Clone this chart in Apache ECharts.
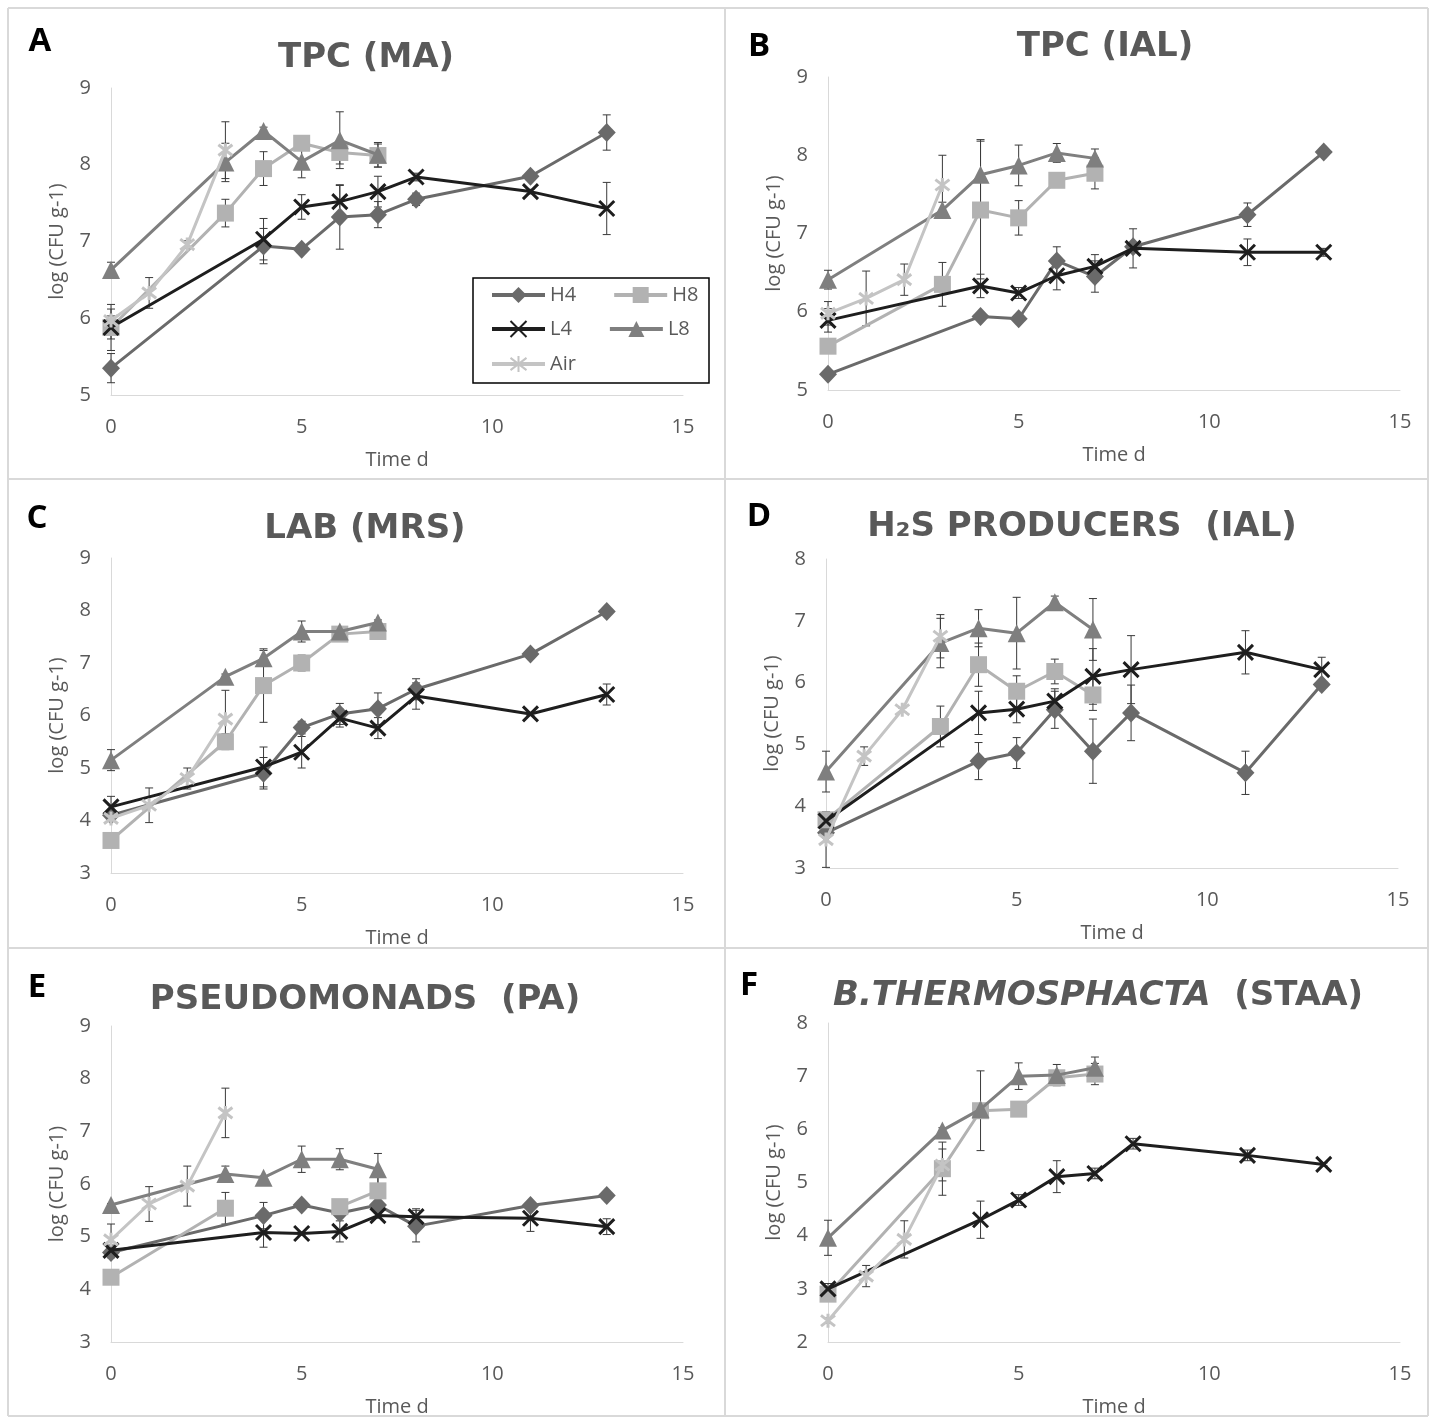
<!DOCTYPE html>
<html>
<head>
<meta charset="utf-8">
<title>Microbial counts</title>
<script src="https://cdn.jsdelivr.net/npm/echarts@6/dist/echarts.min.js"></script>
<style>
  html, body { margin: 0; padding: 0; background: #fff; }
  #chart { width: 1431px; height: 1418px; }
</style>
</head>
<body>
<div id="chart"></div>
<script>
// sampling days
const daysLong = [0, 4, 5, 6, 7, 8, 11, 13];   // H4, L4
const daysShort = [0, 3, 4, 5, 6, 7];           // H8, L8
const daysAir = [0, 1, 2, 3];                   // Air
const xTicks = [0, 5, 10, 15];

// A  TPC (MA)
const A_H4 = [5.35, 6.94, 6.90, 7.32, 7.35, 7.55, 7.85, 8.42];
const A_H4_err = [0.19, 0.23, 0.05, 0.42, 0.17, 0.08, 0.03, 0.23];
const A_H8 = [5.88, 7.37, 7.95, 8.28, 8.16, 8.12];
const A_H8_err = [0.15, 0.18, 0.22, 0.06, 0.15, 0.15];
const A_L4 = [5.88, 7.03, 7.45, 7.52, 7.65, 7.84, 7.65, 7.43];
const A_L4_err = [0.3, 0.27, 0.16, 0.21, 0.2, 0.05, 0.03, 0.34];
const A_L8 = [6.63, 8.03, 8.44, 8.04, 8.32, 8.13];
const A_L8_err = [0.1, 0.25, 0.05, 0.21, 0.37, 0.16];
const A_Air = [5.97, 6.33, 6.96, 8.19];
const A_Air_err = [0.15, 0.2, 0.05, 0.37];

// B  TPC (IAL)
const B_H4 = [5.2, 5.94, 5.91, 6.65, 6.45, 6.83, 7.24, 8.04];
const B_H4_err = [0.03, 0.05, 0.03, 0.18, 0.2, 0.05, 0.15, 0.03];
const B_H8 = [5.56, 6.35, 7.3, 7.2, 7.68, 7.77];
const B_H8_err = [0.05, 0.28, 0.88, 0.22, 0.05, 0.2];
const B_L4 = [5.89, 6.33, 6.24, 6.46, 6.58, 6.81, 6.76, 6.76];
const B_L4_err = [0.15, 0.15, 0.07, 0.18, 0.15, 0.25, 0.17, 0.05];
const B_L8 = [6.41, 7.3, 7.75, 7.87, 8.03, 7.96];
const B_L8_err = [0.12, 0.1, 0.45, 0.26, 0.12, 0.12];
const B_Air = [5.98, 6.17, 6.41, 7.62];
const B_Air_err = [0.15, 0.35, 0.2, 0.38];

// C  LAB (MRS)
const C_H4 = [4.1, 4.9, 5.77, 6.03, 6.13, 6.5, 7.17, 7.98];
const C_H4_err = [0.05, 0.3, 0.12, 0.2, 0.3, 0.2, 0.07, 0.03];
const C_H8 = [3.62, 5.5, 6.57, 7.0, 7.55, 7.6];
const C_H8_err = [0.05, 0.15, 0.7, 0.15, 0.05, 0.05];
const C_L4 = [4.26, 5.02, 5.3, 5.95, 5.76, 6.37, 6.03, 6.4];
const C_L4_err = [0.2, 0.38, 0.3, 0.17, 0.2, 0.25, 0.03, 0.2];
const C_L8 = [5.15, 6.74, 7.09, 7.6, 7.6, 7.77];
const C_L8_err = [0.2, 0.05, 0.15, 0.2, 0.05, 0.05];
const C_Air = [4.04, 4.29, 4.8, 5.93];
const C_Air_err = [0.05, 0.33, 0.2, 0.55];

// D  H2S producers (IAL)
const D_H4 = [3.57, 4.73, 4.86, 5.56, 4.89, 5.51, 4.54, 5.97];
const D_H4_err = [0.05, 0.3, 0.25, 0.3, 0.52, 0.45, 0.35, 0.05];
const D_H8 = [3.78, 5.29, 6.29, 5.86, 6.18, 5.8];
const D_H8_err = [0.1, 0.33, 0.35, 0.25, 0.2, 0.25];
const D_L4 = [3.76, 5.51, 5.57, 5.7, 6.1, 6.21, 6.49, 6.21];
const D_L4_err = [0.1, 0.35, 0.22, 0.2, 0.45, 0.55, 0.35, 0.2];
const D_L8 = [4.56, 6.64, 6.88, 6.8, 7.3, 6.86];
const D_L8_err = [0.33, 0.4, 0.3, 0.58, 0.1, 0.5];
const D_Air = [3.46, 4.81, 5.56, 6.75];
const D_Air_err = [0.45, 0.15, 0.03, 0.35];

// E  Pseudomonads (PA)
const E_H4 = [4.7, 5.4, 5.6, 5.45, 5.6, 5.2, 5.59, 5.78];
const E_H4_err = [0.1, 0.25, 0.05, 0.05, 0.05, 0.3, 0.05, 0.03];
const E_H8 = [4.23, 5.54, null, null, 5.57, 5.87];
const E_H8_err = [0.05, 0.3, null, null, 0.05, 0.3];
const E_L4 = [4.74, 5.08, 5.06, 5.1, 5.4, 5.38, 5.35, 5.19];
const E_L4_err = [0.1, 0.28, 0.03, 0.2, 0.05, 0.15, 0.25, 0.15];
const E_L8 = [5.6, 6.19, 6.12, 6.47, 6.47, 6.28];
const E_L8_err = [0.03, 0.15, 0.03, 0.25, 0.2, 0.3];
const E_Air = [4.94, 5.62, 5.96, 7.35];
const E_Air_err = [0.3, 0.33, 0.38, 0.47];

// F  B. thermosphacta (STAA)
const F_H8 = [2.9, 5.26, 6.35, 6.38, 6.97, 7.04];
const F_H8_err = [0.1, 0.5, 0.75, 0.03, 0.05, 0.2];
const F_L4 = [3.0, 4.3, 4.67, 5.11, 5.17, 5.73, 5.51, 5.34];
const F_L4_err = [0.1, 0.35, 0.1, 0.3, 0.1, 0.1, 0.1, 0.03];
const F_L8 = [3.96, 5.98, 6.38, 7.0, 7.02, 7.16];
const F_L8_err = [0.33, 0.05, 0.05, 0.25, 0.2, 0.2];
const F_Air = [2.4, 3.24, 3.93, 5.33];
const F_Air_err = [0.05, 0.2, 0.35, 0.3];

const GRAY = '#595959';
const FONT = '"Open Sans", sans-serif';
const TITLE_FONT = '"DejaVu Sans", sans-serif';
const X_SYM = 'path://M0,0L10,10M10,0L0,10';
const AST_SYM = 'path://M0,0L10,10M10,0L0,10M5,-1.5L5,11.5';

const looks = {
  H4: { color: '#6a6a6a', symbol: 'diamond', size: [18, 19], stroke: false },
  H8: { color: '#b2b2b2', symbol: 'rect', size: 17, stroke: false },
  L4: { color: '#1e1e1e', symbol: X_SYM, size: 15, stroke: true },
  L8: { color: '#7f7f7f', symbol: 'triangle', size: 18, stroke: false },
  Air: { color: '#c4c4c4', symbol: AST_SYM, size: 14, stroke: true }
};
const order = ['H4', 'H8', 'L4', 'L8', 'Air'];
const daysOf = { H4: daysLong, L4: daysLong, H8: daysShort, L8: daysShort, Air: daysAir };

const panels = [
  { letter: 'A', lx: 40, ly: 42, tx: 366, ty: 58, title: 'TPC (MA)', min: 5, max: 9, grid: [111, 88, 572, 307],
    data: { H4: [A_H4, A_H4_err], H8: [A_H8, A_H8_err], L4: [A_L4, A_L4_err], L8: [A_L8, A_L8_err], Air: [A_Air, A_Air_err] } },
  { letter: 'B', lx: 759, ly: 47, tx: 1105, ty: 47, title: 'TPC (IAL)', min: 5, max: 9, grid: [828, 77, 572, 313],
    data: { H4: [B_H4, B_H4_err], H8: [B_H8, B_H8_err], L4: [B_L4, B_L4_err], L8: [B_L8, B_L8_err], Air: [B_Air, B_Air_err] } },
  { letter: 'C', lx: 37, ly: 519, tx: 365, ty: 529, title: 'LAB (MRS)', min: 3, max: 9, grid: [111, 558, 572, 315],
    data: { H4: [C_H4, C_H4_err], H8: [C_H8, C_H8_err], L4: [C_L4, C_L4_err], L8: [C_L8, C_L8_err], Air: [C_Air, C_Air_err] } },
  { letter: 'D', lx: 759, ly: 517, tx: 1082, ty: 527, title: 'H\u2082S PRODUCERS  (IAL)', min: 3, max: 8, grid: [826, 559, 572, 309],
    data: { H4: [D_H4, D_H4_err], H8: [D_H8, D_H8_err], L4: [D_L4, D_L4_err], L8: [D_L8, D_L8_err], Air: [D_Air, D_Air_err] } },
  { letter: 'E', lx: 37, ly: 988, tx: 365, ty: 1000, title: 'PSEUDOMONADS  (PA)', min: 3, max: 9, grid: [111, 1026, 572, 322],
    data: { H4: [E_H4, E_H4_err], H8: [E_H8, E_H8_err], L4: [E_L4, E_L4_err], L8: [E_L8, E_L8_err], Air: [E_Air, E_Air_err] } },
  { letter: 'F', lx: 749, ly: 986, tx: 1098, ty: 996, title: '{i|B.THERMOSPHACTA}{n|  (STAA)}', min: 2, max: 8, grid: [828, 1023, 572, 322],
    data: { H8: [F_H8, F_H8_err], L4: [F_L4, F_L4_err], L8: [F_L8, F_L8_err], Air: [F_Air, F_Air_err] } }
];

function renderErr(params, api) {
  const x = api.value(0);
  const top = api.coord([x, api.value(2)]);
  const bot = api.coord([x, api.value(1)]);
  const c = 4;
  const st = { stroke: '#3a3a3a', lineWidth: 1 };
  return {
    type: 'group',
    children: [
      { type: 'line', shape: { x1: top[0], y1: top[1], x2: bot[0], y2: bot[1] }, style: st },
      { type: 'line', shape: { x1: top[0] - c, y1: top[1], x2: top[0] + c, y2: top[1] }, style: st },
      { type: 'line', shape: { x1: bot[0] - c, y1: bot[1], x2: bot[0] + c, y2: bot[1] }, style: st }
    ]
  };
}

const grids = [], xAxes = [], yAxes = [], series = [];
const graphics = [];

panels.forEach(function (p, i) {
  grids.push({ left: p.grid[0], top: p.grid[1], width: p.grid[2], height: p.grid[3] });
  xAxes.push({
    gridIndex: i, type: 'value', min: xTicks[0], max: xTicks[xTicks.length - 1], interval: 5,
    name: 'Time d', nameLocation: 'middle', nameGap: 55,
    nameTextStyle: { fontSize: 20, color: GRAY, fontFamily: FONT },
    axisLine: { show: true, onZero: false, lineStyle: { color: '#d9d9d9', width: 1 } },
    axisTick: { show: false }, splitLine: { show: false },
    axisLabel: { margin: 22, fontSize: 20, color: GRAY, fontFamily: FONT }
  });
  yAxes.push({
    gridIndex: i, type: 'value', min: p.min, max: p.max, interval: 1,
    name: 'log (CFU g-1)', nameLocation: 'middle', nameGap: 44,
    nameTextStyle: { fontSize: 20, color: GRAY, fontFamily: FONT },
    axisLine: { show: true, lineStyle: { color: '#d9d9d9', width: 1 } },
    axisTick: { show: false }, splitLine: { show: false },
    axisLabel: { margin: 20, fontSize: 20, color: GRAY, fontFamily: FONT }
  });

  const bars = [];
  order.forEach(function (key, k) {
    if (!p.data[key]) return;
    const vals = p.data[key][0], errs = p.data[key][1];
    const days = daysOf[key];
    const lk = looks[key];
    series.push({
      type: 'line', name: key, xAxisIndex: i, yAxisIndex: i,
      data: days.map(function (d, j) { return [d, vals[j] == null ? '-' : vals[j]]; }),
      symbol: lk.symbol, symbolSize: lk.size, showSymbol: true, connectNulls: false,
      lineStyle: { color: lk.color, width: 3 },
      itemStyle: { color: lk.color, borderColor: lk.color, borderWidth: lk.stroke ? 3 : 0 },
      emphasis: { disabled: true }, z: 3 + k * 0.1
    });
    days.forEach(function (d, j) {
      if (vals[j] == null) return;
      bars.push([d, vals[j] - errs[j], vals[j] + errs[j]]);
    });
  });
  // error bars sit behind the markers, as in the original
  series.push({
    type: 'custom', xAxisIndex: i, yAxisIndex: i, renderItem: renderErr,
    data: bars, encode: { x: 0, y: [1, 2] }, z: 2, silent: true
  });

  graphics.push({
    type: 'text', x: p.lx, y: p.ly, z: 20,
    style: { text: p.letter, font: 'bold 33px ' + FONT, fill: '#000', align: 'center', verticalAlign: 'middle' }
  });
  graphics.push({
    type: 'text', x: p.tx, y: p.ty, z: 20,
    style: {
      text: p.title, font: 'bold 34px ' + TITLE_FONT, fill: GRAY, align: 'center', verticalAlign: 'middle',
      rich: {
        i: { font: 'italic bold 34px ' + TITLE_FONT, fill: GRAY },
        n: { font: 'bold 34px ' + TITLE_FONT, fill: GRAY }
      }
    }
  });
});

// panel frame lines
const frame = [
  [8, 8, 1428, 8], [8, 479, 1428, 479], [8, 948, 1428, 948], [8, 1416, 1428, 1416],
  [8, 8, 8, 1416], [725, 8, 725, 1416], [1428, 8, 1428, 1416]
];
frame.forEach(function (f) {
  graphics.push({ type: 'line', z: 0, shape: { x1: f[0], y1: f[1], x2: f[2], y2: f[3] }, style: { stroke: '#d9d9d9', lineWidth: 2 } });
});
// legend box in panel A
graphics.push({ type: 'rect', z: 10, shape: { x: 473, y: 278, width: 236, height: 105 }, style: { fill: '#fff', stroke: '#000', lineWidth: 1.5 } });

function legendRow(names, top) {
  return {
    data: names, left: 490, top: top, orient: 'horizontal', padding: 0, z: 30,
    itemWidth: 53, itemHeight: 20, itemGap: 36, selectedMode: false,
    lineStyle: { width: 4 },
    textStyle: { fontSize: 20, color: GRAY, fontFamily: FONT }
  };
}

const chart = echarts.init(document.getElementById('chart'));
chart.setOption({
  backgroundColor: '#fff',
  animation: false,
  grid: grids,
  xAxis: xAxes,
  yAxis: yAxes,
  legend: [legendRow(['H4', 'H8'], 285), legendRow(['L4', 'L8'], 319), legendRow(['Air'], 354)],
  graphic: graphics,
  series: series
});
</script>
</body>
</html>
